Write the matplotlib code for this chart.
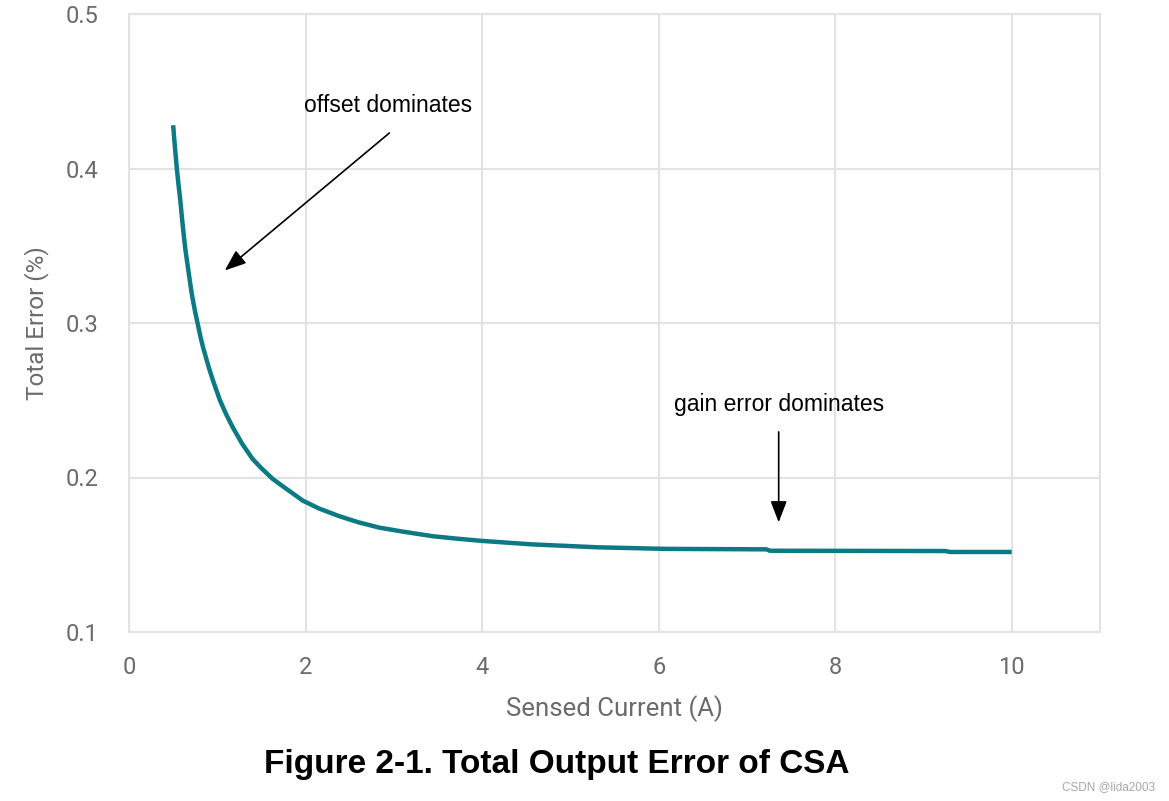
import matplotlib
matplotlib.use("Agg")
import matplotlib.pyplot as plt

# Data
current = [0.50, 0.52, 0.54, 0.56, 0.58, 0.60, 0.62, 0.64, 0.67, 0.70, 0.72,
           0.75, 0.78, 0.81, 0.84, 0.87, 0.90, 0.95, 1.03, 1.10, 1.18, 1.28,
           1.40, 1.50, 1.63, 1.75, 1.97, 2.15, 2.38, 2.60, 2.84, 3.10, 3.44,
           3.70, 3.99, 4.57, 5.32, 6.08, 7.22, 7.26, 9.25, 9.30, 10.0]
error = [0.428, 0.414, 0.401, 0.390, 0.380, 0.368, 0.357, 0.347, 0.335, 0.323,
         0.316, 0.307, 0.299, 0.291, 0.284, 0.278, 0.272, 0.263, 0.250, 0.241,
         0.232, 0.222, 0.212, 0.206, 0.199, 0.194, 0.185, 0.180, 0.175, 0.171,
         0.1675, 0.165, 0.162, 0.1605, 0.159, 0.1567, 0.1548, 0.1538, 0.1535,
         0.1526, 0.1524, 0.1518, 0.1518]

x_ticks = [0, 2, 4, 6, 8, 10]
y_ticks = [0.1, 0.2, 0.3, 0.4, 0.5]
y_tick_labels = ["0.1", "0.2", "0.3", "0.4", "0.5"]

fig = plt.figure(figsize=(11.69, 8.01), dpi=100)
ax = fig.add_axes([129 / 1169, 1 - 632 / 801, (1100 - 129) / 1169, (632 - 14) / 801])

grid_c = "#e3e3e3"
ax.set_xlim(0, 11)
ax.set_ylim(0.1, 0.5)
ax.set_xticks(x_ticks + [11])
ax.set_xticklabels([str(t) for t in x_ticks] + [""])
ax.set_yticks(y_ticks)
ax.set_yticklabels(y_tick_labels)
ax.grid(True, color=grid_c, linewidth=1.5)
ax.set_axisbelow(True)
for s in ax.spines.values():
    s.set_color(grid_c)
    s.set_linewidth(1.5)
ax.tick_params(length=0, labelsize=17, labelcolor="#6b6b6b")
ax.tick_params(axis="x", pad=17)
ax.tick_params(axis="y", pad=22)
for lab in ax.get_xticklabels() + ax.get_yticklabels():
    lab.set_family("Roboto")

ax.plot(current, error, color="#0b7a84", linewidth=3.2, solid_capstyle="butt",
        solid_joinstyle="round", zorder=3)

ax.set_xlabel("Sensed Current (A)", fontsize=18.5, color="#6b6b6b", family="Roboto", labelpad=12)
ax.set_ylabel("Total Error (%)", fontsize=17.5, color="#6b6b6b", family="Roboto", labelpad=12)

arrow_style = "-|>,head_length=1.3,head_width=0.5"
ax.annotate("", xy=(1.085, 0.334), xytext=(2.95, 0.423),
            arrowprops=dict(arrowstyle=arrow_style, color="black", lw=1.2, shrinkA=0, shrinkB=0))
ax.text(2.94, 0.441, "offset dominates", fontsize=16.5, family="Liberation Sans", ha="center", va="center")

ax.annotate("", xy=(7.36, 0.171), xytext=(7.36, 0.2295),
            arrowprops=dict(arrowstyle=arrow_style, color="black", lw=1.2, shrinkA=0, shrinkB=0))
ax.text(7.36, 0.247, "gain error dominates", fontsize=16.5, family="Liberation Sans", ha="center", va="center")

fig.text(0.476, 0.046, "Figure 2-1. Total Output Error of CSA", fontsize=24, fontweight="bold",
         family="Liberation Sans", ha="center", va="center")
fig.text(0.988, 0.018, "CSDN @lida2003", fontsize=8.5, color="#a8a8a8", family="Liberation Sans",
         ha="right", va="center")

fig.savefig("out.png", dpi=100)
